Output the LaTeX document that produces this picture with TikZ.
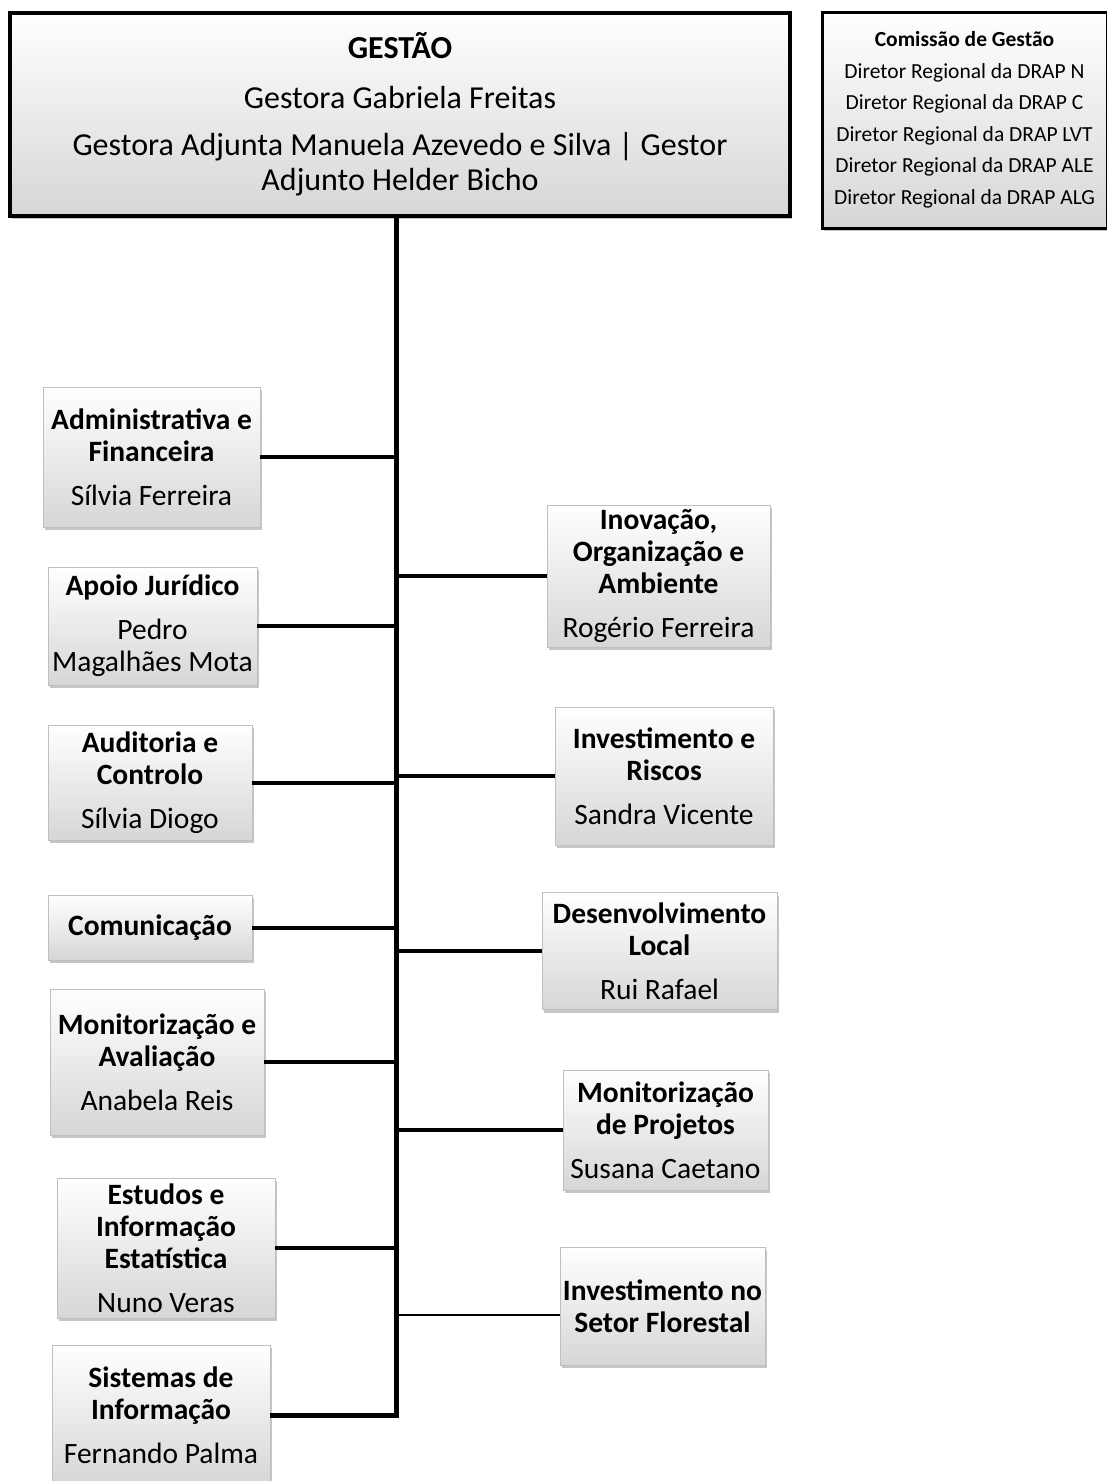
\documentclass[tikz,border=0pt]{standalone}
\usepackage{fontspec}
\setmainfont{Carlito}
\usepackage{tikz}
\usetikzlibrary{shadows}

\begin{document}
\begin{tikzpicture}[x=1pt,y=-1pt,
	unit/.style={draw=gray!50,line width=0.8pt,top color=white,bottom color=gray!32,
		drop shadow={shadow xshift=2pt,shadow yshift=-3pt,opacity=.45},
		rectangle,align=center,inner sep=0pt,outer sep=0pt,
		font=\fontsize{29.5}{32}\selectfont},
	head/.style={unit,draw=black,line width=4pt,font=\fontsize{32}{35}\selectfont},
	link/.style={line width=4pt},
	trunk/.style={line width=5pt,line join=miter}]
\useasboundingbox (0,0) rectangle (1107,1481);
\node[head,minimum width=780,minimum height=203](gestao) at (400,114.5)
	{\textbf{GESTÃO} \\[15pt] Gestora Gabriela Freitas \\[12pt]
	 Gestora Adjunta Manuela Azevedo e Silva | Gestor \\ Adjunto Helder Bicho};
\node[head,line width=3pt,minimum width=285,minimum height=216,
	font=\fontsize{21.5}{31.5}\selectfont](comissao) at (964.5,120)
	{\textbf{Comissão de Gestão} \\ Diretor Regional da DRAP N \\ Diretor Regional da DRAP C \\
	 Diretor Regional da DRAP LVT \\ Diretor Regional da DRAP ALE \\ Diretor Regional da DRAP ALG};
\node[unit,minimum width=217,minimum height=140](adm) at (151.5,457)
	{\textbf{Administrativa e} \\ \textbf{Financeira} \\[12pt] Sílvia Ferreira};
\node[unit,minimum width=209,minimum height=118](jur) at (152.5,626)
	{\textbf{Apoio Jurídico} \\[12pt] Pedro \\ Magalhães Mota};
\node[unit,minimum width=204,minimum height=115](aud) at (150,782.5)
	{\textbf{Auditoria e} \\ \textbf{Controlo} \\[12pt] Sílvia Diogo};
\node[unit,minimum width=204,minimum height=65](com) at (150,927.5)
	{\textbf{Comunicação}};
\node[unit,minimum width=214,minimum height=146](mav) at (157,1062)
	{\textbf{Monitorização e} \\ \textbf{Avaliação} \\[12pt] Anabela Reis};
\node[unit,minimum width=218,minimum height=140](est) at (166,1248)
	{\textbf{Estudos e} \\ \textbf{Informação} \\ \textbf{Estatística} \\[12pt] Nuno Veras};
\node[unit,minimum width=218,minimum height=140](sis) at (161,1415)
	{\textbf{Sistemas de} \\ \textbf{Informação} \\[12pt] Fernando Palma};
\node[unit,minimum width=223,minimum height=142](ino) at (658.5,576)
	{\textbf{Inovação,} \\ \textbf{Organização e} \\ \textbf{Ambiente} \\[12pt] Rogério Ferreira};
\node[unit,minimum width=218,minimum height=138](inv) at (664,776)
	{\textbf{Investimento e} \\ \textbf{Riscos} \\[12pt] Sandra Vicente};
\node[unit,minimum width=235,minimum height=117](des) at (659.5,951)
	{\textbf{Desenvolvimento} \\ \textbf{Local} \\[12pt] Rui Rafael};
\node[unit,minimum width=205,minimum height=120](mpr) at (665.5,1130)
	{\textbf{Monitorização} \\ \textbf{de Projetos} \\[12pt] Susana Caetano};
\node[unit,minimum width=205,minimum height=118](flo) at (662.5,1306)
	{\textbf{Investimento no} \\ \textbf{Setor Florestal}};
\coordinate (top) at (396,216);
\draw[trunk] (gestao.south -| top) |- (sis.east);
\draw[link] (adm.east) -- (adm.east -| top);
\draw[link] (jur.east) -- (jur.east -| top);
\draw[link] (aud.east) -- (aud.east -| top);
\draw[link] (com.east) -- (com.east -| top);
\draw[link] (mav.east) -- (mav.east -| top);
\draw[link] (est.east) -- (est.east -| top);
\draw[link] (ino.west -| top) -- (ino.west);
\draw[link] (inv.west -| top) -- (inv.west);
\draw[link] (des.west -| top) -- (des.west);
\draw[link] (mpr.west -| top) -- (mpr.west);
\draw[line width=1.6pt] (top |- 0,1315) coordinate (fl) -- (fl -| flo.west);
\end{tikzpicture}
\end{document}
